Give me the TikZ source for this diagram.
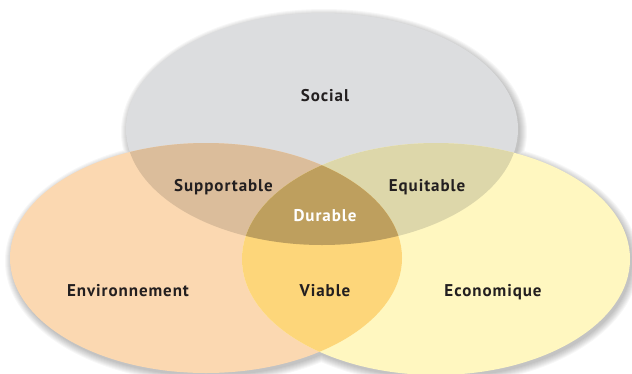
\documentclass[tikz,border=0pt]{standalone}
\usepackage{fontspec}
\setmainfont[LetterSpace=5.5]{PT Sans}
\definecolor{socc}{HTML}{DCDDDF}
\definecolor{envc}{HTML}{FBD8B1}
\definecolor{ecoc}{HTML}{FFF7C0}
\definecolor{suppc}{HTML}{DBBD9B}
\definecolor{equic}{HTML}{DDD7AA}
\definecolor{viabc}{HTML}{FDD67A}
\definecolor{durac}{HTML}{BE9F5E}
\definecolor{txt}{HTML}{231F20}
\begin{document}
\begin{tikzpicture}[x=1pt,y=-1pt,
  lbl/.style={font=\bfseries\fontsize{17}{17}\selectfont, text=txt, anchor=base, inner sep=0pt},
  shadowfill/.style={fill=black, opacity=0.03}]
\clip (0,0) rectangle (632,373);
\fill[white] (0,0) rectangle (632,373);
\def\Soc{(322,129) ellipse [x radius=196, y radius=116]}
\def\Env{(206,258) ellipse [x radius=196, y radius=115]}
\def\Eco{(436,259) ellipse [x radius=194, y radius=116]}
% soft shadow
\foreach \k in {0,...,7}{
  \fill[shadowfill] (324,132) ellipse [x radius=196+\k, y radius=116+\k]
                    (208,261) ellipse [x radius=196+\k, y radius=115+\k]
                    (438,262) ellipse [x radius=194+\k, y radius=116+\k];
}
% base sets
\fill[socc] \Soc;
\fill[envc] \Env;
\fill[ecoc] \Eco;
% pairwise overlaps
\begin{scope}
  \clip \Soc;
  \fill[suppc] \Env;
  \fill[equic] \Eco;
\end{scope}
\begin{scope}
  \clip \Env;
  \fill[viabc] \Eco;
\end{scope}
\begin{scope}
  \clip \Soc;
  \clip \Env;
  \fill[durac] \Eco;
\end{scope}
% labels
\node[lbl] (social) at (325,101) {Social};
\node[lbl] (env) at (128,296.5) {Environnement};
\node[lbl] (eco) at (493,296) {Economique};
\node[lbl] (supp) at (223.5,191) {Supportable};
\node[lbl] (equi) at (427,191) {Equitable};
\node[lbl, text=white] (dura) at (325,221.5) {Durable};
\node[lbl] (viab) at (325,296) {Viable};
\end{tikzpicture}
\end{document}
